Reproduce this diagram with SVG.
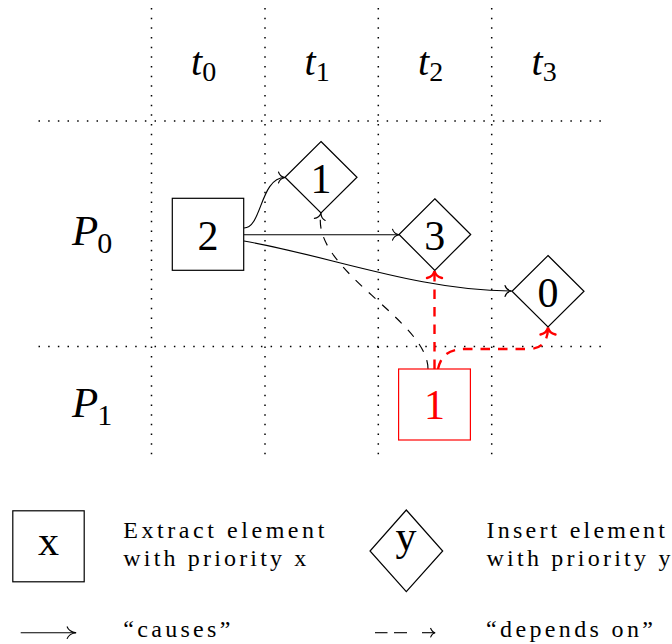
<svg xmlns="http://www.w3.org/2000/svg" width="672" height="644" viewBox="0 0 672 644" font-family="Liberation Serif, DejaVu Serif, serif">
<defs>
<style>
.grid{stroke:#000;stroke-width:1.5;stroke-dasharray:1.5 8.17;fill:none}
.node{fill:#fff;stroke:#000;stroke-width:1.2}
.rnode{fill:#fff;stroke:#f00;stroke-width:1.2}
.lbl{font-size:42px;text-anchor:middle;fill:#000}
.rlbl{font-size:42px;text-anchor:middle;fill:#f00}
.math{fill:#000}
.txt{font-size:24px;fill:#000}
.cause{fill:none;stroke:#000;stroke-width:1.15;marker-end:url(#ah)}
.dep{fill:none;stroke:#000;stroke-width:1.15;stroke-dasharray:9 9;marker-end:url(#ah)}
.rdep{fill:none;stroke:#f00;stroke-width:2.4;stroke-dasharray:9.5 8;marker-end:url(#rah)}
</style>
<marker id="ah" markerUnits="userSpaceOnUse" markerWidth="20" markerHeight="20" viewBox="-10 -10 20 20" refX="0" refY="0" orient="auto" overflow="visible">
<path d="M-6.5,-5.5 C-5.5,-2.2 -2.2,-0.4 0,0 C-2.2,0.4 -5.5,2.2 -6.5,5.5" fill="none" stroke="#000" stroke-width="1.1" stroke-linecap="round"/>
</marker>
<marker id="rah" markerUnits="userSpaceOnUse" markerWidth="24" markerHeight="24" viewBox="-12 -12 24 24" refX="0" refY="0" orient="auto" overflow="visible">
<path d="M-7,-7.5 C-6,-3 -2.5,-0.5 0,0 C-2.5,0.5 -6,3 -7,7.5" fill="none" stroke="#f00" stroke-width="2.4" stroke-linecap="round"/>
</marker>
</defs>
<rect width="672" height="644" fill="#fff"/>

<g id="grid">
<line class="grid" x1="151.5" y1="8" x2="151.5" y2="462"/>
<line class="grid" x1="265" y1="8" x2="265" y2="462"/>
<line class="grid" x1="378.3" y1="8" x2="378.3" y2="462"/>
<line class="grid" x1="491.7" y1="8" x2="491.7" y2="462"/>
<line class="grid" x1="38.5" y1="121" x2="607" y2="121"/>
<line class="grid" x1="38.5" y1="346.5" x2="607" y2="346.5"/>
</g>

<g id="headers">
<text class="math" x="191" y="75" font-size="40" font-style="italic">t<tspan font-style="normal" font-size="28" dy="6">0</tspan></text>
<text class="math" x="304.5" y="75" font-size="40" font-style="italic">t<tspan font-style="normal" font-size="28" dy="6">1</tspan></text>
<text class="math" x="418" y="75" font-size="40" font-style="italic">t<tspan font-style="normal" font-size="28" dy="6">2</tspan></text>
<text class="math" x="531.5" y="75" font-size="40" font-style="italic">t<tspan font-style="normal" font-size="28" dy="6">3</tspan></text>
<text class="math" x="72" y="245" font-size="43" font-style="italic">P<tspan font-style="normal" font-size="30" dx="-1" dy="8">0</tspan></text>
<text class="math" x="72" y="417" font-size="43" font-style="italic">P<tspan font-style="normal" font-size="30" dx="-1" dy="8">1</tspan></text>
</g>

<g id="connectors">
<path class="cause" d="M244,228 C262,228 260,177.5 285,177.5"/>
<path class="cause" d="M244,234.7 L399,234.7"/>
<path class="cause" d="M244,241 C330,256 420,291 511.5,291"/>
<path class="dep" d="M428,369 C428,320 310,270 321,213"/>
<path class="rdep" d="M434.5,369 L434.5,271"/>
<path class="rdep" d="M438,369 C441,355 449,349 466,349 L528,349 C542,349 548,341 548,327.5"/>
</g>

<g id="n_extract2">
<rect class="node" x="172.3" y="198.3" width="71.4" height="72"/>
<text class="lbl" x="208" y="250">2</text>
</g>
<g id="n_insert1">
<polygon class="node" points="321,141.5 357,177.3 321,213 285,177.3"/>
<text class="lbl" x="321" y="192.5">1</text>
</g>
<g id="n_insert3">
<polygon class="node" points="434.8,198.8 470.7,234.5 434.8,270.3 399,234.5"/>
<text class="lbl" x="434.8" y="250">3</text>
</g>
<g id="n_insert0">
<polygon class="node" points="548,255.5 584,291.2 548,327 512,291.2"/>
<text class="lbl" x="548" y="306.7">0</text>
</g>
<g id="n_extract1">
<rect class="rnode" x="398.6" y="369" width="71.8" height="71"/>
<text class="rlbl" x="434.5" y="419.3">1</text>
</g>

<g id="legend_extract">
<rect class="node" x="12.8" y="510.8" width="71.4" height="71"/>
<text class="lbl" x="48.5" y="555" font-size="40">x</text>
<text class="txt" x="123.3" y="538.3" textLength="201">Extract element</text>
<text class="txt" x="123.3" y="566" textLength="183">with priority x</text>
</g>
<g id="legend_insert">
<polygon class="node" points="406.3,510 442.7,551 406.3,591.7 370,551"/>
<text class="lbl" x="406" y="550" font-size="40">y</text>
<text class="txt" x="486.5" y="538.3" textLength="178.5">Insert element</text>
<text class="txt" x="486.5" y="566" textLength="184">with priority y</text>
</g>
<g id="legend_causes">
<line x1="20.7" y1="632.7" x2="76" y2="632.7" stroke="#000" stroke-width="1.1"/>
<path d="M67,626.5 C68.5,630.5 72.5,632.4 76.2,632.7 C72.5,633 68.5,634.9 67,638.9" fill="none" stroke="#000" stroke-width="1.1"/>
<text class="txt" x="123.3" y="636.5" textLength="107">“causes”</text>
</g>
<g id="legend_depends">
<line x1="375" y1="632.7" x2="387.5" y2="632.7" stroke="#000" stroke-width="1.1"/>
<line x1="394" y1="632.7" x2="407" y2="632.7" stroke="#000" stroke-width="1.1"/>
<line x1="422" y1="632.7" x2="435" y2="632.7" stroke="#000" stroke-width="1.1"/>
<path d="M430.5,628 C431.5,630.5 433,632.3 435.2,632.7 C433,633.1 431.5,634.9 430.5,637.4" fill="none" stroke="#000" stroke-width="1.1"/>
<text class="txt" x="486" y="636.5" textLength="167">“depends on”</text>
</g>
</svg>
